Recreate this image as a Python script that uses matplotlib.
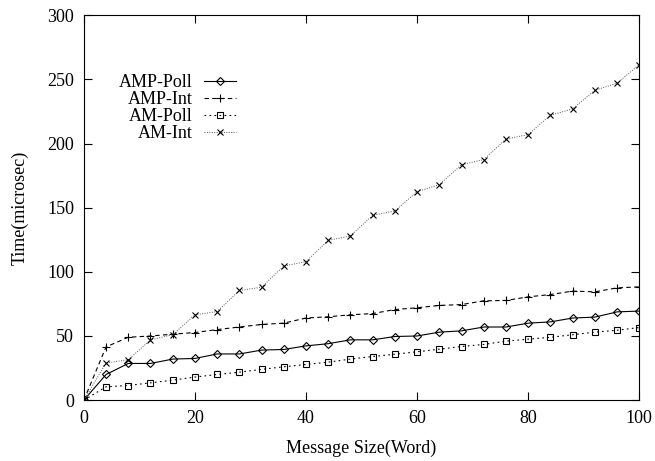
import matplotlib
matplotlib.use('Agg')
from matplotlib import pyplot as plt

# message sizes in words
sizes = [0, 4, 8, 12, 16, 20, 24, 28, 32, 36, 40, 44, 48,
         52, 56, 60, 64, 68, 72, 76, 80, 84, 88, 92, 96, 100]

amp_poll = [0, 20, 28.6, 28.6, 32, 32.5, 36, 36, 39, 39.5, 42.3, 44, 47,
            47, 49.6, 50, 53, 54, 57, 57, 60, 61, 64, 64.7, 68.8, 69.4]
amp_int = [0, 41.5, 49, 50, 51.4, 52.7, 55, 57, 59, 60, 64, 65, 66.5,
           67.5, 70.6, 72, 73.8, 74.5, 77.4, 77.7, 80.5, 82.3, 85, 84.4, 87.5, 88.3]
am_poll = [0, 10.4, 11.4, 13.5, 15.6, 18, 20, 21.8, 24, 26, 27.8, 29.6, 32,
           34, 35.8, 37.7, 39.7, 41.8, 43.4, 46, 47.5, 49, 51, 53, 54.5, 56.6]
am_int = [0, 29, 31.5, 47, 51, 66.5, 69, 85.5, 88, 104.5, 108, 124.5, 128,
          144, 147.5, 162.5, 168, 183.5, 187.5, 203.5, 207, 222, 227, 241.5, 247, 261.5]

plt.rcParams['font.family'] = 'Liberation Serif'
plt.rcParams['font.size'] = 13

fig = plt.figure(figsize=(6.55, 4.61), dpi=100)
ax = fig.add_axes([0.128, 0.132, 0.848, 0.835])

ax.plot(sizes, amp_poll, color='black', lw=0.8, marker='D', ms=3.8,
        mfc='none', mew=0.8, label='AMP-Poll')
ax.plot(sizes, amp_int, color='black', lw=0.8, ls=(0, (4, 3)), marker='+',
        ms=6, mew=0.8, label='AMP-Int')
ax.plot(sizes, am_poll, color='black', lw=0.8, ls=(0, (1.5, 3)), marker='s',
        ms=4.5, mfc='none', mew=0.8, label='AM-Poll')
ax.plot(sizes, am_int, color='#555555', lw=0.7, ls=(0, (1, 1.5)), marker='x',
        ms=4.5, mec='black', mew=0.8, label='AM-Int')

ax.set_xlim(0, 100)
ax.set_ylim(0, 300)
ax.set_xticks([0, 20, 40, 60, 80, 100])
ax.set_yticks([0, 50, 100, 150, 200, 250, 300])
ax.tick_params(direction='in', top=True, right=True, length=6, width=0.8, pad=7)
ax.set_xlabel('Message Size(Word)', labelpad=9)
ax.set_ylabel('Time(microsec)', labelpad=13)

ax.legend(loc='upper right', bbox_to_anchor=(0.29, 0.87), frameon=False,
          markerfirst=False, handlelength=1.75, handletextpad=0.65,
          labelspacing=0.0, borderpad=0, numpoints=1)

plt.savefig('out.png', dpi=100)
plt.close()
